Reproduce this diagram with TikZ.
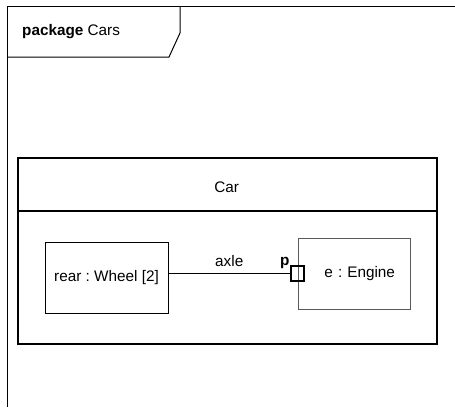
\documentclass[tikz,border=0pt]{standalone}
\usepackage{fontspec}
\setmainfont{Liberation Sans}
\usetikzlibrary{positioning}
\frenchspacing

\begin{document}
\begin{tikzpicture}[x=1pt, y=-1pt,
    part/.style={rectangle, draw, line width=0.8pt, minimum height=71pt, font=\fontsize{15.3}{17}\selectfont},
    portbox/.style={rectangle, draw, line width=2pt, minimum width=13pt, minimum height=15pt, inner sep=0pt},
    lbl/.style={font=\fontsize{15.3}{17}\selectfont, inner sep=1pt}
]
\useasboundingbox (0,0) rectangle (455,407);

% package frame
\draw[line width=1pt] (455,6) -- (7,6) -- (7,407);
\draw[line width=1pt] (7,57) -- (169,57) -- (180,33) -- (180,6);
\node[lbl, anchor=west] (pkg) at (21,32) {\textbf{package} Cars};

% Car block
\node[draw, line width=1.6pt, minimum width=419pt, minimum height=186pt, anchor=north west] (car) at (17,157) {};
\node[lbl, minimum width=419pt, minimum height=60pt, anchor=north west] (cartitle) at (car.north west) {Car};
\draw[line width=1.6pt] (car.north west) ++(0,54) -- ++(419,0);

% parts
\node[part, minimum width=123pt] (wheel) at (106.5,277.5) {rear : Wheel [2]};
\node[part, minimum width=112pt, draw=black!65, text width=82pt, align=right, inner xsep=15pt] (engine) at (354,273.5) {e : Engine};
\node[portbox] (port) at (engine.west) {};
\node[lbl, font=\fontsize{15.3}{17}\selectfont\bfseries, anchor=base east, inner sep=0.5pt] (portname) at (port.north west) {p};

\draw[line width=1.3pt] (port.west -| wheel.east) -- node[lbl, above=5pt] (axle) {axle} (port.west);
\end{tikzpicture}
\end{document}
